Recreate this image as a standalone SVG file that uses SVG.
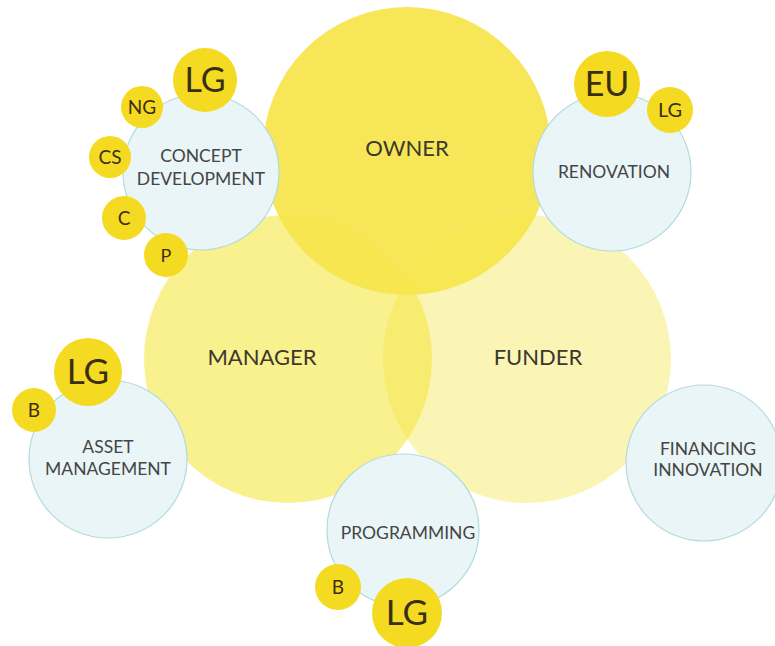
<svg xmlns="http://www.w3.org/2000/svg" width="775" height="646" viewBox="0 0 775 646">
<style>
  .big { font-family: Lato, "Open Sans", "Liberation Sans", sans-serif; font-size: 22px; font-weight: 400; fill: #3b382c; text-anchor: middle; }
  .lbl { font-family: Lato, "Open Sans", "Liberation Sans", sans-serif; font-size: 17.5px; font-weight: 400; fill: #454545; text-anchor: middle; }
  .tag { font-family: Lato, "Open Sans", "Liberation Sans", sans-serif; font-weight: 400; fill: #3a2f14; text-anchor: middle; }
  .blue { fill: #eaf5f7; stroke: #b3dbdc; stroke-width: 1.2; }
  .dot { fill: #f5da22; }
</style>
<rect width="775" height="646" fill="#ffffff"/>
<g id="manager">
  <circle cx="288" cy="359" r="144" fill="#f5e53c" fill-opacity="0.58"/>
  <text class="big" x="262" y="365">MANAGER</text>
</g>
<g id="funder">
  <circle cx="527" cy="359" r="144" fill="#f5e53c" fill-opacity="0.38"/>
  <text class="big" x="538" y="365">FUNDER</text>
</g>
<g id="owner">
  <circle cx="407" cy="151" r="144" fill="#f6e54b" fill-opacity="0.93"/>
  <text class="big" x="407" y="156">OWNER</text>
</g>
<g id="concept-development">
  <circle class="blue" cx="201" cy="172" r="78"/>
  <text class="lbl" x="201" y="162">CONCEPT</text>
  <text class="lbl" x="201" y="185">DEVELOPMENT</text>
</g>
<g id="renovation">
  <circle class="blue" cx="612" cy="172" r="79"/>
  <text class="lbl" x="614" y="178">RENOVATION</text>
</g>
<g id="asset-management">
  <circle class="blue" cx="108" cy="459" r="79"/>
  <text class="lbl" x="108" y="453">ASSET</text>
  <text class="lbl" x="108" y="475">MANAGEMENT</text>
</g>
<g id="programming">
  <circle class="blue" cx="403" cy="530" r="76"/>
  <text class="lbl" x="408" y="539">PROGRAMMING</text>
</g>
<g id="financing-innovation">
  <circle class="blue" cx="704" cy="463" r="78"/>
  <text class="lbl" x="708" y="455">FINANCING</text>
  <text class="lbl" x="708" y="476">INNOVATION</text>
</g>
<g id="cd-lg"><circle class="dot" cx="205" cy="80" r="32"/><text class="tag" x="205" y="92" font-size="34">LG</text></g>
<g id="cd-ng"><circle class="dot" cx="142" cy="107" r="21"/><text class="tag" x="142" y="114" font-size="19">NG</text></g>
<g id="cd-cs"><circle class="dot" cx="110" cy="157" r="21"/><text class="tag" x="110" y="164" font-size="19">CS</text></g>
<g id="cd-c"><circle class="dot" cx="124" cy="218" r="22"/><text class="tag" x="124" y="225" font-size="19">C</text></g>
<g id="cd-p"><circle class="dot" cx="166" cy="255" r="22"/><text class="tag" x="166" y="262" font-size="18">P</text></g>
<g id="ren-eu"><circle class="dot" cx="607" cy="84" r="33"/><text class="tag" x="607" y="96" font-size="34">EU</text></g>
<g id="ren-lg"><circle class="dot" cx="670" cy="110" r="23"/><text class="tag" x="670" y="117" font-size="20">LG</text></g>
<g id="am-lg"><circle class="dot" cx="88" cy="372" r="34"/><text class="tag" x="88" y="384" font-size="35">LG</text></g>
<g id="am-b"><circle class="dot" cx="34" cy="410" r="22"/><text class="tag" x="34" y="417" font-size="19">B</text></g>
<g id="pr-b"><circle class="dot" cx="338" cy="587" r="23"/><text class="tag" x="338" y="594" font-size="19">B</text></g>
<g id="pr-lg"><circle class="dot" cx="407" cy="613" r="35"/><text class="tag" x="407" y="625" font-size="35">LG</text></g>
<g id="connectors"></g>
</svg>
